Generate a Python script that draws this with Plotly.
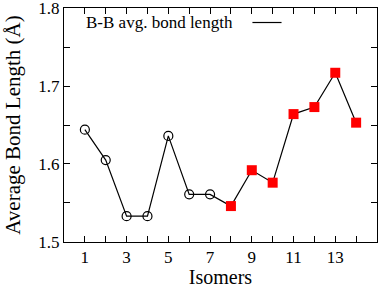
import plotly.graph_objects as go

isomers = list(range(1, 15))
bond_length = [1.644, 1.605, 1.533, 1.533, 1.636, 1.561, 1.561,
               1.546, 1.592, 1.576, 1.664, 1.673, 1.717, 1.653]
x_tick_vals = list(range(1, 15))
x_tick_text = [str(v) if v % 2 == 1 else "" for v in x_tick_vals]
y_tick_vals = [1.5, 1.55, 1.6, 1.65, 1.7, 1.75, 1.8]
y_tick_text = ["1.5", "", "1.6", "", "1.7", "", "1.8"]
legend_label = "B-B avg. bond length"

font_family = "Liberation Serif, DejaVu Serif, serif"

fig = go.Figure()
fig.add_trace(go.Scatter(x=isomers, y=bond_length, mode="lines",
                         line=dict(color="black", width=1.2), showlegend=False))
fig.add_trace(go.Scatter(x=isomers[:7], y=bond_length[:7], mode="markers",
                         marker=dict(symbol="circle-open", size=9, color="black",
                                     line=dict(width=1.2, color="black")),
                         showlegend=False))
fig.add_trace(go.Scatter(x=isomers[7:], y=bond_length[7:], mode="markers",
                         marker=dict(symbol="square", size=10, color="red",
                                     line=dict(width=0)),
                         showlegend=False))

fig.add_annotation(x=0.064, y=0.940, xref="paper", yref="paper", xanchor="left",
                   yanchor="middle", text=legend_label, showarrow=False,
                   font=dict(family=font_family, size=17, color="black"))
fig.add_shape(type="line", xref="paper", yref="paper", x0=0.602, x1=0.695,
              y0=0.938, y1=0.938, line=dict(color="black", width=1.2))

axis_common = dict(showline=True, linecolor="black", linewidth=1, mirror="ticks",
                   ticks="inside", ticklen=6, tickcolor="black", showgrid=False,
                   zeroline=False, automargin=False, ticklabeloverflow="allow",
                   tickfont=dict(family=font_family, size=17, color="black"))

fig.update_xaxes(range=[0, 15], tickvals=x_tick_vals, ticktext=x_tick_text,
                 title=dict(text="Isomers", standoff=8,
                            font=dict(family=font_family, size=20, color="black")),
                 **axis_common)
fig.update_yaxes(range=[1.4999, 1.8001], tickvals=y_tick_vals, ticktext=y_tick_text,
                 title=dict(text="Average Bond Length (Å)", standoff=11,
                            font=dict(family=font_family, size=21, color="black")),
                 **axis_common)

fig.update_layout(width=379, height=288, margin=dict(l=64, r=2, t=8, b=46),
                  plot_bgcolor="white", paper_bgcolor="white")

fig.write_html("out.html", config={"displayModeBar": False},
               post_script="document.body.style.margin='0';document.body.style.overflow='hidden';")
